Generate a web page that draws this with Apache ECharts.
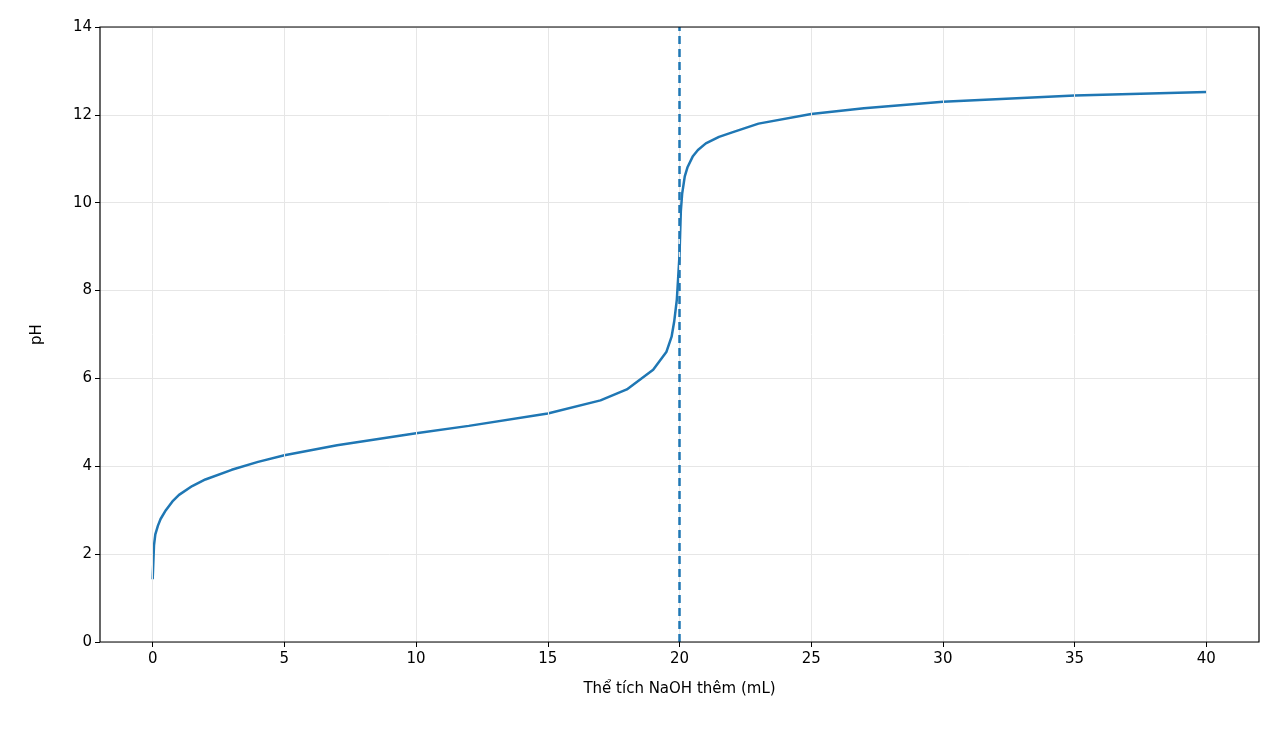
<!DOCTYPE html>
<html><head><meta charset="utf-8">
<script src="https://cdn.jsdelivr.net/npm/echarts@6/dist/echarts.min.js"></script>
<style>html,body{margin:0;padding:0;background:#fff}#c{width:1278px;height:738px}</style>
</head><body><div id="c"></div>
<script>
const volumes = [0,0.05,0.1,0.2,0.3,0.5,0.75,1,1.5,2,3,4,5,7,10,12,15,17,18,19,19.5,19.7,19.8,19.9,19.95,20,20.05,20.1,20.2,20.3,20.5,20.7,21,21.5,22,23,25,27,30,35,40];
const phValues = [1.43,2.2,2.45,2.65,2.8,3.0,3.2,3.35,3.55,3.7,3.92,4.1,4.25,4.48,4.75,4.92,5.2,5.5,5.75,6.2,6.6,6.95,7.3,7.8,8.3,8.8,9.8,10.2,10.6,10.8,11.05,11.2,11.35,11.5,11.6,11.8,12.02,12.15,12.3,12.44,12.52];
const equivalenceVolume = 20;
const xTicks = [0,5,10,15,20,25,30,35,40];
const yTicks = [0,2,4,6,8,10,12,14];
const data = volumes.map((v,i)=>[v,phValues[i]]);
const chart = echarts.init(document.getElementById('c'));
const axisText = {color:'#000',fontSize:15,fontFamily:'DejaVu Sans'};
chart.setOption({
  animation:false,
  grid:{left:100,right:19,top:27,bottom:96},
  xAxis:{type:'value',min:-2,max:42,
    axisLabel:Object.assign({},axisText,{customValues:xTicks,margin:10}),
    axisLine:{show:false,onZero:false},axisTick:{show:true,customValues:xTicks,length:5,lineStyle:{color:'#000'}},
    splitLine:{show:false},
    name:'Thể tích NaOH thêm (mL)',nameLocation:'middle',nameGap:40,nameTextStyle:axisText},
  yAxis:{type:'value',min:0,max:14,interval:2,
    axisLabel:axisText,axisLine:{show:false,onZero:false},axisTick:{show:true,length:5,lineStyle:{color:'#000'}},
    splitLine:{show:true,lineStyle:{color:'#e6e6e6'}},
    name:'pH',nameLocation:'middle',nameGap:55,nameTextStyle:axisText},
  graphic:[{type:'rect',shape:{x:100,y:27,width:1159,height:615},style:{fill:'none',stroke:'#000',lineWidth:1.2},z:100}],
  series:[
    {type:'line',data:[],silent:true,
     markLine:{silent:true,symbol:'none',label:{show:false},lineStyle:{color:'#e6e6e6',type:'solid',width:1},
       data:xTicks.map(t=>[{coord:[t,0]},{coord:[t,14]}])}},
    {type:'line',data:data,showSymbol:false,smooth:false,lineStyle:{color:'#1f77b4',width:2.5},
     markLine:{silent:true,symbol:'none',label:{show:false},
       lineStyle:{color:'#1f77b4',type:[8,5],width:2.5},
       data:[[{coord:[equivalenceVolume,0]},{coord:[equivalenceVolume,14]}]]}}
  ]
});
</script></body></html>
